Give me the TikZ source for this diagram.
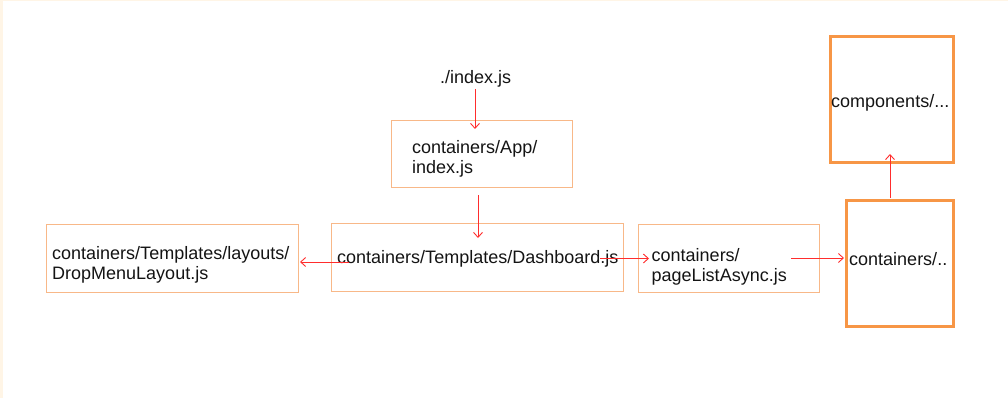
\documentclass[tikz,border=0pt]{standalone}
\usepackage{fontspec}
\setmainfont{Liberation Sans}
\usetikzlibrary{arrows.meta,calc}
\definecolor{thinor}{RGB}{248,184,136}
\definecolor{thickor}{RGB}{247,150,70}
\definecolor{arrred}{RGB}{255,45,45}
\definecolor{beige}{RGB}{255,245,230}
\definecolor{txt}{RGB}{20,20,20}
\begin{document}
\begin{tikzpicture}[x=1pt,y=-1pt,
  thinbox/.style={draw=thinor,line width=1pt,inner sep=0pt,anchor=north west},
  thickbox/.style={draw=thickor,line width=2.6pt,inner sep=0pt,anchor=north west},
  lbl/.style={font=\fontsize{18}{20}\selectfont,text=txt,inner sep=0pt,anchor=base west,align=left},
  arr/.style={draw=arrred,line width=0.9pt,-{Straight Barb[length=5pt,width=9pt]}}]
\useasboundingbox (0,0) rectangle (1008,398);
\fill[beige] (0,0) rectangle (2.5,398);
\fill[beige] (0,0) rectangle (1008,1.5);
% boxes
\node[thinbox,minimum width=181pt,minimum height=67pt] (app) at (391,120) {};
\node[thinbox,minimum width=292pt,minimum height=68pt] (dash) at (331,223) {};
\node[thinbox,minimum width=252pt,minimum height=68pt] (left) at (46,224) {};
\node[thinbox,minimum width=181pt,minimum height=68pt] (pla) at (638,224) {};
\node[thickbox,minimum width=107pt,minimum height=126pt] (cont) at (845,199) {};
\node[thickbox,minimum width=123pt,minimum height=126pt] (comp) at (829,35) {};
% labels (two-line labels are anchored at the baseline of their last line)
\node[lbl] (idx) at (440,84) {./index.js};
\node[lbl] (applbl) at (412,173) {containers/App/\\index.js};
\node[lbl] (leftlbl) at (52,279) {containers/Templates/layouts/\\DropMenuLayout.js};
\node[lbl] (dashlbl) at (337,263) {containers/Templates/Dashboard.js};
\node[lbl] (plalbl) at (651.5,281) {containers/\\pageListAsync.js};
\node[lbl] (contlbl) at (849,265) {containers/..};
\node[lbl] (complbl) at (831,108) {components/...};
% connector end points
\coordinate (c1s) at (475,89);
\coordinate (c1e) at (475,129);
\coordinate (c2s) at (478,195);
\coordinate (c2e) at (478,238);
\coordinate (c3s) at (349,262);
\coordinate (c3e) at (300,262);
\coordinate (c4s) at (600,258.5);
\coordinate (c4e) at (649,258.5);
\coordinate (c5s) at (791,258);
\coordinate (c5e) at (844,258);
\coordinate (c6s) at (890,198);
\coordinate (c6e) at (890,154);
\draw[arr] (c1s) -- (c1e);
\draw[arr] (c2s) -- (c2e);
\draw[arr] (c3s) -- (c3e);
\draw[arr] (c4s) -- (c4e);
\draw[arr] (c5s) -- (c5e);
\draw[arr] (c6s) -- (c6e);
\end{tikzpicture}
\end{document}
